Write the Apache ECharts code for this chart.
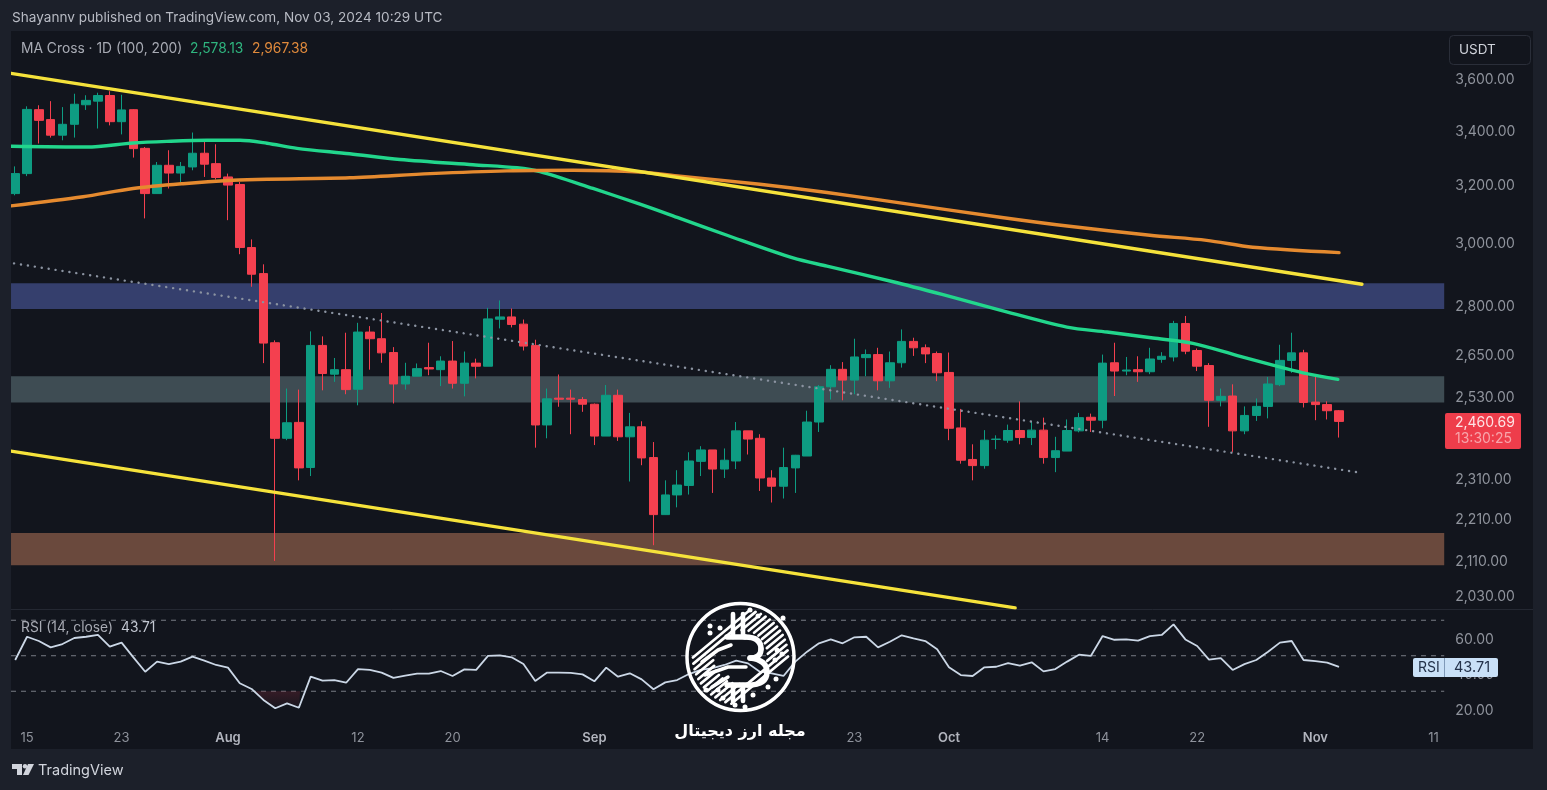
<!DOCTYPE html>
<html><head><meta charset="utf-8">
<style>html,body{margin:0;padding:0;background:#1c202a}#c{width:1547px;height:790px}</style>
<script src="https://cdn.jsdelivr.net/npm/echarts@6/dist/echarts.min.js"></script>
</head><body><div id="c"></div>
<script>
// [open, close, low, high], one candle per day from 14 Jul 2024
const ohlc = [
[3168,3239,3162,3265],[3239,3478,3230,3490],[3477,3436,3349,3494],[3439,3380,3371,3510],[3380,3421,3361,3487],
[3421,3498,3371,3539],[3496,3513,3476,3533],[3510,3532,3405,3543],[3532,3431,3417,3549],[3431,3476,3383,3535],
[3477,3330,3297,3479],[3331,3168,3082,3336],[3168,3269,3168,3281],[3269,3241,3186,3324],[3241,3265,3209,3281],
[3263,3313,3251,3390],[3313,3273,3227,3355],[3275,3225,3218,3346],[3227,3198,3076,3239],[3200,2984,2962,3209],
[2984,2897,2857,3011],[2899,2684,2625,2929],[2685,2415,2108,2692],[2415,2457,2410,2552],[2458,2337,2305,2549],
[2338,2677,2316,2719],[2677,2595,2547,2704],[2593,2606,2571,2640],[2606,2549,2536,2715],[2550,2717,2505,2745],
[2717,2697,2606,2735],[2697,2655,2626,2775],[2656,2565,2510,2672],[2565,2587,2549,2626],[2587,2609,2587,2624],
[2612,2608,2590,2685],[2606,2631,2559,2645],[2631,2567,2552,2690],[2567,2625,2530,2659],[2625,2616,2581,2638],
[2616,2757,2616,2791],[2756,2763,2728,2814],[2763,2740,2731,2789],[2741,2675,2662,2755],[2677,2451,2390,2694],
[2451,2523,2415,2552],[2525,2522,2501,2592],[2525,2522,2426,2549],[2521,2508,2487,2528],[2508,2421,2397,2510],
[2421,2533,2421,2562],[2533,2419,2408,2549],[2419,2446,2302,2484],[2446,2363,2344,2461],[2364,2219,2145,2405],
[2219,2268,2218,2305],[2268,2293,2237,2331],[2292,2355,2269,2378],[2354,2384,2316,2394],[2384,2334,2273,2384],
[2334,2357,2311,2388],[2355,2435,2334,2459],[2435,2413,2372,2435],[2415,2311,2278,2426],[2311,2290,2249,2331],
[2290,2338,2259,2390],[2337,2370,2273,2371],[2368,2459,2368,2490],[2459,2557,2432,2562],[2557,2607,2521,2619],
[2607,2576,2519,2628],[2576,2643,2536,2697],[2641,2650,2587,2665],[2650,2574,2547,2670],[2574,2626,2554,2659],
[2626,2689,2612,2725],[2689,2670,2646,2700],[2670,2652,2625,2680],[2653,2597,2573,2659],[2598,2442,2410,2656],
[2443,2357,2348,2495],[2359,2343,2305,2399],[2343,2410,2335,2437],[2412,2413,2386,2423],[2410,2436,2403,2452],
[2436,2417,2399,2516],[2417,2437,2397,2462],[2437,2364,2348,2471],[2364,2382,2326,2419],[2381,2436,2381,2466],
[2435,2471,2431,2484],[2472,2464,2432,2482],[2464,2625,2442,2650],[2626,2602,2531,2685],[2602,2605,2590,2643],
[2606,2600,2571,2645],[2600,2637,2593,2670],[2636,2645,2626,2657],[2643,2743,2630,2751],[2743,2660,2651,2766],
[2662,2616,2602,2668],[2618,2519,2446,2625],[2519,2530,2502,2552],[2531,2435,2379,2564],[2435,2477,2426,2502],
[2477,2502,2462,2524],[2502,2565,2469,2585],[2563,2633,2559,2679],[2633,2655,2597,2715],[2655,2513,2499,2664],
[2514,2507,2464,2585],[2507,2490,2466,2516],[2490,2460.69,2417,2492]
];
// moving averages: [day index, price]
const ma100 = [[-0.355,3339],[6.07,3336],[9.97,3351],[12.84,3357],[16.23,3361],[19.02,3361],[21.3,3350],[23.84,3331],[28.3,3311],[32.55,3290],[38.73,3271],[42.45,3260],[44.4,3246],[48.88,3186],[52.86,3131],[56.24,3082],[60.22,3025],[65.8,2950],[68.68,2923],[74.27,2873],[78.5,2832],[83.32,2784],[88.98,2732],[92.37,2717],[96.26,2699],[99.64,2683],[103.4,2647],[106.4,2619],[108.95,2597],[111.9,2578.13]];
const ma200 = [[-0.355,3125],[5.74,3157],[9.97,3186],[14.2,3203],[18.4,3215],[21.3,3219],[28.3,3224],[35.1,3239],[41.6,3249],[47.2,3251],[52.86,3245],[56.24,3230],[63,3201],[68.68,3172],[74.27,3139],[83.32,3086],[89,3056],[96,3025],[100.8,3008],[104.7,2985],[112,2967.38]];
// drawn trend lines: [day index, price]
const channelTop = [[-0.355,3620],[113.94,2865]];
const channelBottom = [[-0.355,2381],[84.6,2001]];
const midTrend = [[-0.1,2932],[113.5,2326]];
// horizontal zones: low, high
const zoneBlue = [2787,2868];
const zoneGrey = [2513,2587];
const zoneBrown = [2098,2174];
const zoneEnd = [-0.355,120.9];
const rsi = [47.6,60.7,58.3,54.7,56.6,60,60.7,61.7,55.1,57.4,49.1,41,46.7,45.3,46.7,49.5,47.2,44.8,43.3,34.5,31.3,25.1,20.4,23.2,20.7,38.2,36,36.3,34.8,42.5,42,40.5,37.5,38.8,39.9,39.9,41.4,38.6,42.3,42,49.9,50.2,49.1,45.3,35.8,40.5,40.5,40.3,39.5,35.6,43.3,38.2,40.1,36.7,31.1,35,36.3,39.7,42,43,44.8,47.2,45.7,41,40.1,38.6,46.7,52.3,57,59.2,57,60.4,60.7,54.7,57.9,61.5,59.8,58.3,53.6,43.5,39.1,38.6,43.5,43.8,45.9,44.4,46.3,41.2,42.5,46.7,50.6,49.9,61.1,59,59.2,58.5,61.1,61.7,67.7,59.2,55.5,47.8,48.7,42,45.3,47.6,52.3,57.4,58.3,47.6,47,46.1,43.71];
const rsiOversold = [[20.3,30],[21,25.1],[22,20.4],[23,23.2],[24,20.7],[24.1,30]];
const rsiBands = [70,50,30];
const priceTicks = [3600,3400,3200,3000,2800,2650,2530,2310,2210,2110,2030];
const rsiTicks = [60,40,20];
const timeTicks = {1:'15',9:'23',18:'Aug',29:'12',37:'20',49:'Sep',71:'23',79:'Oct',92:'14',100:'22',110:'Nov',120:'11'};
const categories = Array.from({length:122},(_,i)=>String(i));
const rsiIdx = rsi.map((v,i)=>[i,v]);

const FONT='Inter, Roboto, sans-serif', INNER='#12151d', OUTER='#1c202a', AXT='#8f939c';
const fmt2 = v => '{a|'+Number(v).toLocaleString('en-US',{minimumFractionDigits:2,maximumFractionDigits:2})+'}';
const valueRich = {a:{color:AXT,fontFamily:FONT,fontSize:14,padding:[3,0,0,0]}};
const timeAxisLabel = {
  show:true, interval:(i)=>timeTicks[i]!==undefined, hideOverlap:false, margin:12,
  color:AXT, fontFamily:FONT, fontSize:13,
  formatter:(v)=>{const t=timeTicks[v]; if(!t) return ''; return /[A-Z]/.test(t)?'{m|'+t+'}':t;},
  rich:{m:{color:'#b2b5be',fontFamily:FONT,fontSize:13,fontWeight:600}}
};
const hide={show:false};
const chart = echarts.init(document.getElementById('c'),null,{renderer:'canvas'});

const txt=(x,y,text,fill,size,extra)=>({type:'text',silent:true,z:20,x,y,style:Object.assign({text,fill,fontSize:size,fontFamily:FONT,verticalAlign:'middle'},extra||{})});
const logo=[];
const LZ=7, cx=740.5,cy=657;
const WHITE={fill:'transparent',stroke:'#fff',lineCap:'round',lineJoin:'round'};
logo.push({type:'circle',silent:true,z:LZ,shape:{cx,cy,r:53.5},style:{fill:'transparent',stroke:'#fff',lineWidth:3.5}});
// hatch chords, broken around the centre where the B sits
const ux=0.77,uy=-0.64,nx=0.64,ny=0.77,R=47.5,gapR=25;
const hatch=(x1,y1,x2,y2)=>logo.push({type:'line',silent:true,z:LZ,shape:{x1,y1,x2,y2},style:{stroke:'#fff',lineWidth:2.7,lineCap:'round'}});
for(let d=-30;d<=30.1;d+=5){
  const h=Math.sqrt(R*R-d*d), mx=cx+nx*d, my=cy+ny*d;
  if(Math.abs(d)<gapR){
    const g=Math.sqrt(gapR*gapR-d*d)+3;
    hatch(mx-ux*h,my-uy*h,mx-ux*g,my-uy*g);
    hatch(mx+ux*g,my+uy*g,mx+ux*h,my+uy*h);
  } else hatch(mx-ux*h,my-uy*h,mx+ux*h,my+uy*h);
}
const stroke=(pts,w)=>logo.push({type:'polyline',silent:true,z:LZ,shape:{points:pts},style:Object.assign({},WHITE,{lineWidth:w||5.4})});
const curve=(x1,y1,cx1,cy1,x2,y2)=>logo.push({type:'bezierCurve',silent:true,z:LZ,shape:{x1,y1,x2,y2,cpx1:cx1,cpy1:cy1},style:Object.assign({},WHITE,{lineWidth:5.4})});
stroke([[727,637],[745,637]]);curve(745,637,761,637,761,649);curve(761,649,761,658,750,658);
curve(750,658,767,660,767,672);curve(767,672,767,685,748,685);stroke([[748,685],[727,685]]);
stroke([[733,614],[733,637]],4.6);stroke([[743,614],[743,637]],4.6);stroke([[733,685],[733,701]],4.6);stroke([[743,685],[743,701]],4.6);
stroke([[702,662],[718,650],[731,645]],3.5);stroke([[705,675],[728,667],[746,667]],3.5);stroke([[712,687],[728,677]],3.5);
[[710,626],[720,628],[710,633],[750,610],[758,616],[783,618],[777,650],[782,654],[775,660],[776,679],[768,687],[753,695],[718,690],[723,698],[735,705],[745,707],[706,690]].forEach(d=>logo.push({type:'circle',silent:true,z:LZ,shape:{cx:d[0],cy:d[1],r:2.5},style:{fill:'#fff'}}));

const graphicEls=[
 {type:'rect',silent:true,z:-10,shape:{x:11,y:31,width:1522,height:718},style:{fill:INNER}},
 {type:'rect',silent:true,z:10,shape:{x:0,y:31,width:11,height:718},style:{fill:OUTER}},
 {type:'line',silent:true,z:-9,shape:{x1:11,y1:609.5,x2:1533,y2:609.5},style:{stroke:'#242832',lineWidth:1}},
 ...logo,
 txt(12,18,'Shayannv published on TradingView.com, Nov 03, 2024 10:29 UTC','#b8bbc4',13.6),
 txt(21,49,'MA Cross · 1D (100, 200)','#a8abb4',13.8),
 txt(190,49,'2,578.13','#2fb57f',13.8),
 txt(252,49,'2,967.38','#e08a3c',13.8),
 txt(21,628,'RSI (14, close)','#a8abb4',13.8),
 txt(121,628,'43.71','#c3c8d2',13.8),
 {type:'rect',silent:true,z:20,shape:{x:1449.5,y:35.5,width:81,height:29,r:4},style:{fill:'transparent',stroke:'#2a2e39',lineWidth:1}},
 txt(1459,50,'USDT','#d1d4dc',13.5),
 {type:'rect',silent:true,z:20,shape:{x:1445,y:413,width:76,height:36,r:2},style:{fill:'#ee3d4b'}},
 txt(1455,423,'2,460.69','#fde3e5',14),
 txt(1455,439,'13:30:25','#f7a5ab',14),
 {type:'rect',silent:true,z:20,shape:{x:1413,y:658,width:85,height:19,r:2},style:{fill:'#c9e0f7'}},
 {type:'line',silent:true,z:20,shape:{x1:1444.5,y1:658,x2:1444.5,y2:677},style:{stroke:'#7f99b8',lineWidth:1}},
 txt(1418,668,'RSI','#24324a',14),
 txt(1454,668,'43.71','#24324a',14.5),
 txt(740,732,'مجله ارز دیجیتال','#ffffff',16,{fontFamily:'"DejaVu Sans", "Noto Sans", sans-serif',fontWeight:'bold',align:'center'}),
 {type:'polygon',silent:true,z:20,shape:{points:[[12,764],[22,764],[22,775],[17,775],[17,769],[12,769]]},style:{fill:'#d1d4dc'}},
 {type:'polygon',silent:true,z:20,shape:{points:[[28,764],[34,764],[28.5,775],[23,775]]},style:{fill:'#d1d4dc'}},
 {type:'circle',silent:true,z:20,shape:{cx:25,cy:766.3,r:2.2},style:{fill:'#d1d4dc'}},
 txt(38,771,'TradingView','#d1d4dc',14.5)
];

const line=(data,color,width,extra)=>Object.assign({type:'line',xAxisIndex:1,yAxisIndex:0,data,showSymbol:false,silent:true,animation:false,z:4,
  lineStyle:{color,width,cap:'round',join:'round'}},extra||{});
const zone=(z,c)=>[{xAxis:zoneEnd[0],yAxis:z[0],itemStyle:{color:c,opacity:1}},{xAxis:zoneEnd[1],yAxis:z[1]}];

const series=[
 {type:'candlestick',xAxisIndex:0,yAxisIndex:0,data:ohlc,barWidth:9,silent:true,animation:false,z:2,
  itemStyle:{color:'#0e9c82',color0:'#f4404f',borderColor:'#0e9c82',borderColor0:'#f4404f',borderWidth:1}},
 line(midTrend,'#8b93a1',2.4,{z:3,lineStyle:{color:'#8b93a1',width:2.4,type:[0.1,6.9],cap:'round'},
  markArea:{silent:true,animation:false,z:1,label:hide,data:[zone(zoneBlue,'#353f6d'),zone(zoneGrey,'#3e4c53'),zone(zoneBrown,'#6a493d')]}}),
 line(ma100,'#22d68c',3.4,{smooth:0.3}),
 line(ma200,'#e58a2f',3.4,{smooth:0.3}),
 line(channelTop,'#f5e23b',3.4,{z:5}),
 line(channelBottom,'#f5e23b',3.4,{z:5}),
 {type:'line',xAxisIndex:3,yAxisIndex:1,data:rsiOversold,showSymbol:false,silent:true,animation:false,z:1,lineStyle:{width:0},
  areaStyle:{origin:30,color:{type:'linear',x:0,y:0,x2:0,y2:1,colorStops:[{offset:0,color:'rgba(120,40,55,0.5)'},{offset:1,color:'rgba(120,40,55,0.06)'}]}}},
 ...rsiBands.map(b=>({type:'line',xAxisIndex:3,yAxisIndex:1,data:[[zoneEnd[0],b],[zoneEnd[1],b]],showSymbol:false,silent:true,animation:false,z:0,
  lineStyle:{color:'#787c85',width:1,type:[5,5]}})),
 {type:'line',xAxisIndex:3,yAxisIndex:1,data:rsiIdx,showSymbol:false,silent:true,animation:false,z:6,lineStyle:{color:'#cbd7e6',width:1.8}}
];

chart.setOption({
 backgroundColor:OUTER, animation:false,
 grid:[{left:9.3,top:31,width:1442,height:577},{left:9.3,top:610,width:1442,height:110}],
 xAxis:[
  {type:'category',gridIndex:0,data:categories,boundaryGap:true,axisLine:hide,axisTick:hide,axisLabel:hide,splitLine:hide},
  {type:'value',gridIndex:0,min:-0.5,max:121.5,show:false,splitLine:hide},
  {type:'category',gridIndex:1,data:categories,boundaryGap:true,axisLine:hide,axisTick:hide,axisLabel:timeAxisLabel,splitLine:hide},
  {type:'value',gridIndex:1,min:-0.5,max:121.5,show:false,splitLine:hide}
 ],
 yAxis:[
  {type:'log',logBase:10,gridIndex:0,position:'right',min:2000.7,max:3794,axisLine:hide,axisTick:hide,splitLine:hide,
   axisLabel:{show:true,customValues:priceTicks,margin:4,color:AXT,fontFamily:FONT,fontSize:14,formatter:fmt2,rich:valueRich}},
  {type:'value',gridIndex:1,position:'right',min:13.8,max:75.77,axisLine:hide,axisTick:hide,splitLine:hide,
   axisLabel:{show:true,customValues:rsiTicks,margin:4,color:AXT,fontFamily:FONT,fontSize:14,formatter:fmt2,rich:valueRich}}
 ],
 graphic:{elements:graphicEls},
 series
});
</script></body></html>
